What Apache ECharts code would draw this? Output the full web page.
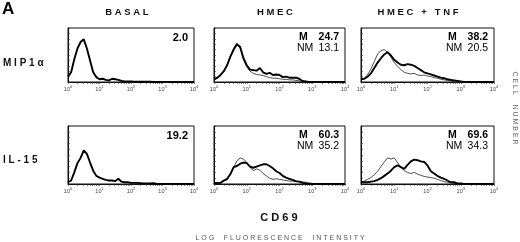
<!DOCTYPE html>
<html>
<head>
<meta charset="utf-8">
<script src="https://cdn.jsdelivr.net/npm/echarts@6/dist/echarts.min.js"></script>
<style>
  html, body { margin: 0; padding: 0; background: #fff; }
  #chart { width: 520px; height: 242px; }
</style>
</head>
<body>
<div id="chart"></div>
<script>
'use strict';
// histogram bins, log10 of CD69 fluorescence (10^0 .. 10^4)
var logX = [0.0, 0.1, 0.2, 0.3, 0.4, 0.5, 0.6, 0.7, 0.8, 0.9,
  1.0, 1.1, 1.2, 1.3, 1.4, 1.5, 1.6, 1.7, 1.8, 1.9,
  2.0, 2.1, 2.2, 2.3, 2.4, 2.5, 2.6, 2.7, 2.8, 2.9,
  3.0, 3.1, 3.2, 3.3, 3.4, 3.5, 3.6, 3.7, 3.8, 3.9, 4.0];
var decades = [0, 1, 2, 3, 4];
var columnTitles = ['BASAL', 'HMEC', 'HMEC + TNF'];
var rowTitles = ['MIP1α', 'IL-15'];

// cell number (% of panel height), thick line = M, thin line = NM
var basalMip = [10, 18, 42, 62, 74, 79, 62, 40, 18, 9,
  5, 6, 4, 3, 6, 5, 4, 2, 1, 1,
  1, 0.5, 0.5, 0.5, 0.5, 0.5, 0.5, 0, 0, 0,
  0, 0, 0, 0, 0, 0, 0, 0, 0, 0, 0];
var hmecMipM = [5, 8, 13, 20, 31, 47, 60, 70, 65, 44,
  31, 23, 22, 21, 26, 18, 15, 17, 13, 14,
  13, 9, 10, 8, 8, 8, 6, 2, 1, 0,
  0, 0, 0, 0, 0, 0, 0, 0, 0, 0, 0];
var hmecMipNM = [4, 7, 12, 20, 32, 48, 62, 72, 62, 42,
  28, 20, 16, 14, 13, 12, 10, 8, 7, 7,
  6, 5, 5, 4, 4, 3, 2, 1, 0, 0,
  0, 0, 0, 0, 0, 0, 0, 0, 0, 0, 0];
var tnfMipM = [5, 6, 10, 16, 26, 36, 44, 51, 55, 49,
  41, 36, 32, 31, 33, 32, 30, 26, 22, 18,
  16, 14, 12, 10, 8, 7, 5, 4, 3, 2,
  1, 0, 0, 0, 0, 0, 0, 0, 0, 0, 0];
var tnfMipNM = [8, 6, 14, 24, 38, 52, 58, 60, 55, 46,
  36, 29, 23, 18, 16, 15, 16, 13, 12, 13,
  11, 10, 8, 7, 5, 4, 3, 2, 0, 0,
  0, 0, 0, 0, 0, 0, 0, 0, 0, 0, 0];
var basalIl = [3, 6, 20, 36, 45, 58, 52, 37, 23, 14,
  11, 9, 7, 6, 6, 5, 9, 4, 3, 3,
  2, 2, 2, 1.5, 1, 1, 1, 1.5, 0.5, 0,
  0, 0, 0, 0, 0, 0, 0, 0, 0, 0, 0];
var hmecIlM = [1, 2, 2, 6, 9, 17, 29, 31, 35, 37,
  36, 30, 28, 30, 32, 34, 34, 31, 27, 22,
  19, 14, 11, 9, 7, 5, 4, 2, 1, 0,
  0, 0, 0, 0, 0, 0, 0, 0, 0, 0, 0];
var hmecIlNM = [3, 2, 1, 5, 7, 17, 29, 40, 45, 43,
  37, 29, 23, 26, 24, 18, 14, 10, 8, 9,
  8, 7, 6, 5, 5, 4, 4, 4, 3, 2,
  1, 0, 0, 0, 0, 0, 0, 0, 0, 0, 0];
var tnfIlM = [3, 3, 3, 4, 5, 7, 10, 14, 18, 23,
  29, 32, 29, 26, 33, 39, 42, 41, 39, 38,
  32, 22, 18, 14, 11, 9, 6, 3, 3, 1,
  1, 0, 0, 0, 0, 0, 0, 0, 0, 0, 0];
var tnfIlNM = [3, 5, 8, 11, 16, 22, 30, 38, 45, 43,
  45, 37, 29, 23, 20, 18, 20, 17, 15, 13,
  12, 11, 10, 8, 6, 4, 3, 2, 1, 0,
  0, 0, 0, 0, 0, 0, 0, 0, 0, 0, 0];

// % positive cells printed in each panel
var statM = [['2.0', '24.7', '38.2'], ['19.2', '60.3', '69.6']];
var statNM = [[null, '13.1', '20.5'], [null, '35.2', '34.3']];

var curvesM = [[basalMip, hmecMipM, tnfMipM], [basalIl, hmecIlM, tnfIlM]];
var curvesNM = [[null, hmecMipNM, tnfMipNM], [null, hmecIlNM, tnfIlNM]];

var FONT = '"Liberation Sans", Arial, sans-serif';
var colLeft = [68, 214, 361], colWidth = [126, 131, 133];
var rowTop = [28, 126], rowHeight = [54, 58];

// log minor ticks 2..9 inside each decade
var tickPos = [];
for (var d = 0; d < 4; d++) {
  for (var m = 1; m < 10; m++) {
    tickPos.push(d + Math.log10(m));
  }
}
tickPos.push(4);

function pairs(arr) {
  return logX.map(function (x, i) { return [x, arr[i]]; });
}

var grids = [], xAxes = [], yAxes = [], series = [], texts = [];
var idx = 0;
for (var r = 0; r < 2; r++) {
  for (var c = 0; c < 3; c++) {
    grids.push({
      left: colLeft[c], top: rowTop[r], width: colWidth[c], height: rowHeight[r],
      show: true, borderColor: '#111', borderWidth: 1, backgroundColor: '#fff'
    });
    xAxes.push({
      gridIndex: idx, type: 'value', min: 0, max: 4, interval: 1,
      axisLine: { show: true, lineStyle: { color: '#111', width: 1 } },
      axisTick: { show: true, length: 2, customValues: tickPos, lineStyle: { color: '#333', width: 0.6 } },
      splitLine: { show: false },
      axisLabel: {
        margin: 3, customValues: decades,
        formatter: function (v) { return '{b|10}{s|' + v + '}'; },
        rich: {
          b: { fontSize: 5.5, fontFamily: FONT, color: '#444' },
          s: { fontSize: 4, fontFamily: FONT, color: '#444', padding: [0, 0, 4, 0] }
        }
      }
    });
    yAxes.push({
      gridIndex: idx, type: 'value', min: 0, max: 100, interval: 10,
      axisLine: { show: true, lineStyle: { color: '#111', width: 1 } },
      axisTick: { show: true, inside: true, length: 2, lineStyle: { color: '#333', width: 0.6 } },
      splitLine: { show: false },
      axisLabel: { show: false }
    });
    if (curvesNM[r][c]) {
      series.push({
        type: 'line', xAxisIndex: idx, yAxisIndex: idx, data: pairs(curvesNM[r][c]),
        showSymbol: false, silent: true, animation: false,
        lineStyle: { color: '#222', width: 0.8 }
      });
    }
    series.push({
      type: 'line', xAxisIndex: idx, yAxisIndex: idx, data: pairs(curvesM[r][c]),
      showSymbol: false, silent: true, animation: false,
      lineStyle: { color: '#000', width: 1.9 }
    });

    var right = colLeft[c] + colWidth[c] - 6;
    if (statNM[r][c]) {
      texts.push({ type: 'text', x: right - 40, y: rowTop[r] + 4,
        style: { text: 'M', font: 'bold 10.5px ' + FONT, fill: '#000' } });
      texts.push({ type: 'text', x: right, y: rowTop[r] + 4,
        style: { text: statM[r][c], font: 'bold 10.5px ' + FONT, fill: '#000', textAlign: 'right' } });
      texts.push({ type: 'text', x: right - 42, y: rowTop[r] + 15,
        style: { text: 'NM', font: '10.5px ' + FONT, fill: '#000' } });
      texts.push({ type: 'text', x: right, y: rowTop[r] + 15,
        style: { text: statNM[r][c], font: '10.5px ' + FONT, fill: '#000', textAlign: 'right' } });
    } else {
      texts.push({ type: 'text', x: right, y: rowTop[r] + 4,
        style: { text: statM[r][c], font: 'bold 11px ' + FONT, fill: '#000', textAlign: 'right' } });
    }
    idx++;
  }
}

function spaced(s, gap) {
  return s.split(' ').map(function (w) { return w.split('').join(' '); }).join(gap);
}

var colCenter = [127, 275, 418];
columnTitles.forEach(function (t, i) {
  texts.push({ type: 'text', x: colCenter[i], y: 7,
    style: { text: spaced(t, '   '), font: 'bold 9.5px ' + FONT, fill: '#111', textAlign: 'center' } });
});
var rowCenter = [63, 160];
rowTitles.forEach(function (t, i) {
  texts.push({ type: 'text', x: 3, y: rowCenter[i],
    style: { text: spaced(t, '  '), font: 'bold 10px ' + FONT, fill: '#111', textVerticalAlign: 'middle' } });
});
texts.push({ type: 'text', x: 2, y: 1,
  style: { text: 'A', font: 'bold 17px ' + FONT, fill: '#000' } });
texts.push({ type: 'text', x: 279, y: 218,
  style: { text: spaced('CD69', ' '), font: 'bold 11px ' + FONT, fill: '#111', textAlign: 'center', textVerticalAlign: 'middle' } });
texts.push({ type: 'text', x: 280, y: 238,
  style: { text: spaced('LOG FLUORESCENCE INTENSITY', '     '), font: '7px ' + FONT, fill: '#555', textAlign: 'center', textVerticalAlign: 'middle' } });
texts.push({ type: 'text', x: 515, y: 108, rotation: -Math.PI / 2,
  style: { text: spaced('CELL NUMBER', '     '), font: '7px ' + FONT, fill: '#666', textAlign: 'center', textVerticalAlign: 'middle' } });

var chart = echarts.init(document.getElementById('chart'), null, { renderer: 'canvas' });
chart.setOption({
  animation: false,
  grid: grids,
  xAxis: xAxes,
  yAxis: yAxes,
  series: series,
  graphic: texts
});
</script>
</body>
</html>
